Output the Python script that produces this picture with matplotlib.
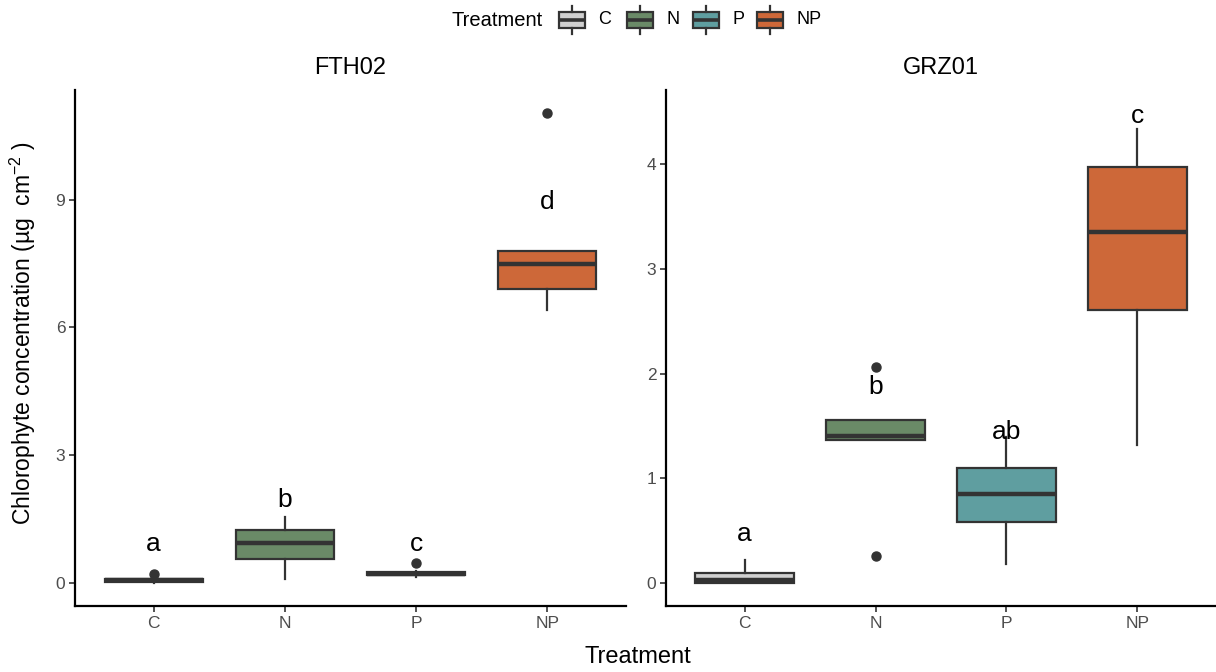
import matplotlib
matplotlib.use("Agg")
import matplotlib.pyplot as plt
from matplotlib.patches import Rectangle

plt.rcParams['font.family'] = ['Liberation Sans', 'DejaVu Sans']
plt.rcParams['mathtext.fontset'] = 'custom'
plt.rcParams['mathtext.rm'] = 'Liberation Sans'
plt.rcParams['mathtext.it'] = 'Liberation Sans:italic'
plt.rcParams['mathtext.bf'] = 'Liberation Sans:bold'

treatments = ["C", "N", "P", "NP"]
colors = ["#d0d0d0", "#6a8a67", "#5f9ea0", "#cd6839"]
edge = "#333333"

# Box statistics per site, in treatment order
sites = ["FTH02", "GRZ01"]
whislo = {"FTH02": [0.00, 0.08, 0.12, 6.41], "GRZ01": [0.00, 1.37, 0.18, 1.32]}
q1 = {"FTH02": [0.02, 0.56, 0.17, 6.90], "GRZ01": [0.00, 1.37, 0.58, 2.61]}
med = {"FTH02": [0.05, 0.93, 0.21, 7.50], "GRZ01": [0.03, 1.40, 0.85, 3.35]}
q3 = {"FTH02": [0.08, 1.24, 0.25, 7.79], "GRZ01": [0.10, 1.56, 1.10, 3.97]}
whishi = {"FTH02": [0.10, 1.54, 0.27, 7.79], "GRZ01": [0.22, 1.56, 1.39, 4.34]}
fliers = {"FTH02": [[0.20], [], [0.47], [11.03]], "GRZ01": [[], [2.06, 0.26], [], []]}

# Significance letters and their heights
letters = {"FTH02": ["a", "b", "c", "d"], "GRZ01": ["a", "b", "ab", "c"]}
letter_y = {"FTH02": [0.96, 2.0, 0.96, 9.0], "GRZ01": [0.49, 1.90, 1.47, 4.49]}

y_ticks = {"FTH02": [0, 3, 6, 9], "GRZ01": [0, 1, 2, 3, 4]}
y_lims = {"FTH02": (-0.55, 11.58), "GRZ01": (-0.22, 4.71)}

fig = plt.figure(figsize=(12.16, 6.72), dpi=100)
W, H = 1216, 672
panel_px = {"FTH02": (75, 626), "GRZ01": (666, 1216)}
top_px, bot_px = 90, 606
strip_y = 68

for site in sites:
    x0, x1 = panel_px[site]
    ax = fig.add_axes([x0 / W, 1 - bot_px / H, (x1 - x0) / W, (bot_px - top_px) / H])
    stats = []
    for i, t in enumerate(treatments):
        stats.append(dict(label=t, whislo=whislo[site][i], q1=q1[site][i], med=med[site][i],
                          q3=q3[site][i], whishi=whishi[site][i], fliers=fliers[site][i]))
    pos = list(range(1, len(treatments) + 1))
    bp = ax.bxp(stats, positions=pos, widths=0.75, patch_artist=True, showcaps=False,
                boxprops=dict(edgecolor=edge, linewidth=1.6),
                medianprops=dict(color=edge, linewidth=3.2, solid_capstyle='butt'),
                whiskerprops=dict(color=edge, linewidth=1.6),
                flierprops=dict(marker='o', markerfacecolor=edge, markeredgecolor=edge,
                                markersize=6.5))
    for patch, c in zip(bp['boxes'], colors):
        patch.set_facecolor(c)
    for xi, (lab, ly) in enumerate(zip(letters[site], letter_y[site])):
        ax.text(pos[xi], ly, lab, ha='center', va='center_baseline', fontsize=19,
                color='black')

    ax.set_xlim(0.4, 4.6)
    ax.set_ylim(*y_lims[site])
    ax.set_yticks(y_ticks[site])
    ax.set_xticks(pos)
    ax.set_xticklabels(treatments)
    for s in ['top', 'right']:
        ax.spines[s].set_visible(False)
    for s in ['left', 'bottom']:
        ax.spines[s].set_linewidth(1.6)
        ax.spines[s].set_color('black')
    ax.tick_params(axis='both', colors='#333333', labelcolor='#4d4d4d', labelsize=12.5,
                   length=4, width=1.2, pad=3)
    ax.text(0.5, 1 + (top_px - strip_y) / (bot_px - top_px), site,
            transform=ax.transAxes, ha='center', va='center', fontsize=17)
    if site == "FTH02":
        ax.set_ylabel(r"Chlorophyte concentration (µg  cm$^{-2}$ )", fontsize=16.5)
        ax.yaxis.set_label_coords((38 - x0) / (x1 - x0), (bot_px - 333) / (bot_px - top_px))

fig.text(638 / W, 1 - 657 / H, "Treatment", ha='center', va='center', fontsize=17)

# Legend drawn on an overlay axes in pixel coordinates
lax = fig.add_axes([0, 0, 1, 1], facecolor='none')
lax.set_xlim(0, W)
lax.set_ylim(H, 0)
lax.axis('off')
lax.text(543, 20, "Treatment", ha='right', va='center', fontsize=14.5)
key_x = [559, 627, 693, 757]
label_x = [598, 666, 732, 796]
key_w, box_top, box_bot = 26, 12, 28
for kx, lx, c, t in zip(key_x, label_x, colors, treatments):
    cx = kx + key_w / 2
    lax.plot([cx, cx], [6, box_top], color=edge, lw=1.6)
    lax.plot([cx, cx], [box_bot, 34], color=edge, lw=1.6)
    lax.add_patch(Rectangle((kx, box_top), key_w, box_bot - box_top, facecolor=c,
                            edgecolor=edge, lw=1.6))
    lax.plot([kx, kx + key_w], [(box_top + box_bot) / 2] * 2, color=edge, lw=2.6,
             solid_capstyle='butt')
    lax.text(lx, 20, t, ha='left', va='center', fontsize=13)

fig.savefig("out.png", dpi=100, facecolor='white')
